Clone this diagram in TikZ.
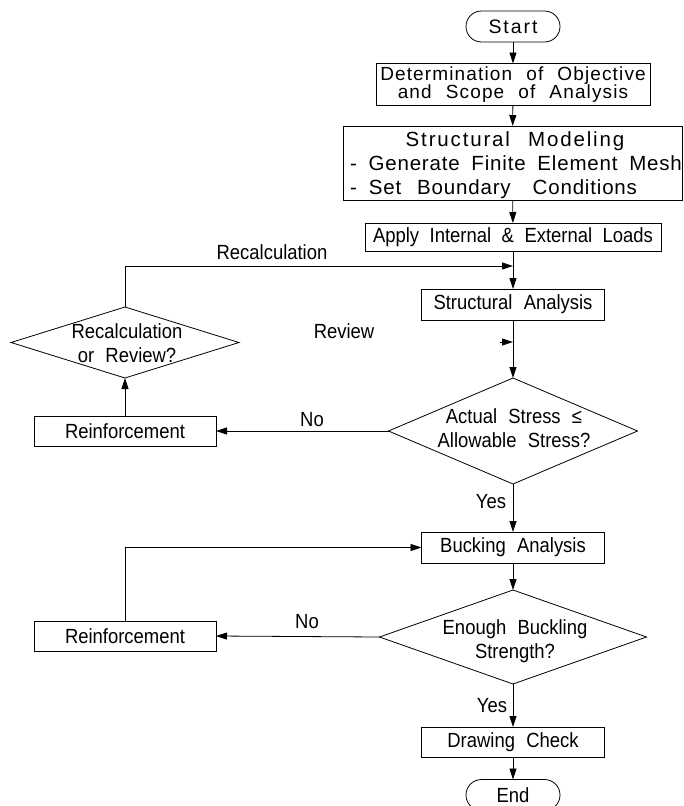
\documentclass[tikz,border=0pt]{standalone}
\usepackage{fontspec}
\setmainfont{Liberation Sans}[FakeStretch=0.9,WordSpace=2.2]
\newfontfamily\trkA{Liberation Sans}[LetterSpace=6,WordSpace=2.2]
\newfontfamily\trkB{Liberation Sans}[LetterSpace=4,WordSpace=1.8]
\newfontfamily\trkC{Liberation Sans}[LetterSpace=9,WordSpace=2.4]
\newfontfamily\trkS{Liberation Sans}[LetterSpace=10]
\newfontfamily\fD{Liberation Sans}[FakeStretch=0.9,WordSpace=2.05]
\usetikzlibrary{shapes.geometric,arrows.meta}
\begin{document}
\begin{tikzpicture}[x=1pt,y=-1pt,
  every node/.style={inner sep=0pt,outer sep=0pt},
  txt/.style={font=\fontsize{20.5}{24}\selectfont, align=center},
  box/.style={txt, draw, rectangle, line width=0.8pt},
  dia/.style={draw, diamond, line width=0.8pt},
  arr/.style={line width=0.8pt, -{Triangle[length=11pt,width=7pt]}}]
\useasboundingbox (0,0) rectangle (683,806);

% main column
\node[box, rounded corners=15.5pt, minimum width=94pt, minimum height=31pt,
      font=\trkS\fontsize{19.5}{22}\selectfont] (start) at (513,26.5) {Start};
\node[box, minimum width=274pt, minimum height=42pt,
      font=\trkA\fontsize{19}{15}\selectfont] (b2) at (513,84.5)
      {Determination of Objective\\and Scope of Analysis};
\node[box, minimum width=339pt, minimum height=74pt] (b3) at (512.5,163) {};
\node[anchor=base, font=\trkC\fontsize{20.5}{24}\selectfont] (b3a) at (515,146) {Structural Modeling};
\node[anchor=base west, font=\trkB\fontsize{20.5}{24}\selectfont] (b3b) at (350,170) {- Generate Finite Element Mesh};
\node[anchor=base west, font=\trkB\fontsize{20.5}{24}\selectfont] (b3c) at (350,194) {-\hspace{12pt}Set\hspace{16pt}Boundary\hspace{22pt}Conditions};
\node[box, minimum width=296pt, minimum height=28pt,
      font=\fD\fontsize{20.5}{24}\selectfont] (b4) at (513,237) {Apply Internal \& External Loads};
\node[box, minimum width=183pt, minimum height=31pt] (sa) at (513,304.5) {Structural Analysis};
\node[dia, minimum width=249pt, minimum height=106pt] (d2) at (513,431) {};
\node[txt] (d2t) at (514,428.5) {Actual Stress ≤\\Allowable Stress?};
\node[box, minimum width=183pt, minimum height=31pt] (ba) at (513,547.5) {Bucking Analysis};
\node[dia, minimum width=267pt, minimum height=94pt] (d3) at (513,637) {};
\node[txt] (d3t) at (515,641) {Enough Buckling\\Strength?};
\node[box, minimum width=183pt, minimum height=30pt] (dc) at (513,742) {Drawing Check};
\node[box, rounded corners=15.5pt, minimum width=94pt, minimum height=31pt] (end) at (513,795) {End};

% left column
\node[dia, minimum width=228pt, minimum height=71pt] (d1) at (125,342.5) {};
\node[txt] (d1t) at (127,343) {Recalculation\\or Review?};
\node[box, minimum width=182pt, minimum height=30pt] (r1) at (125,431) {Reinforcement};
\node[box, minimum width=182pt, minimum height=30pt] (r2) at (125,636) {Reinforcement};

% labels
\node[txt] (lrec) at (272,252) {Recalculation};
\node[txt] (lrev) at (344,331) {Review};
\node[txt] (lno1) at (312,420) {No};
\node[txt] (lyes1) at (491,502) {Yes};
\node[txt] (lno2) at (307,622) {No};
\node[txt] (lyes2) at (492,706) {Yes};

% connectors
\coordinate (j1) at (513,266);
\coordinate (s1) at (500,342);
\coordinate (s2) at (513,342);
\draw[arr] (start) -- (b2);
\draw[arr] (b2) -- (b3);
\draw[arr] (b3) -- (b4);
\draw[arr] (b4) -- (sa);
\draw[arr] (d1.north) |- (j1);
\draw[arr] (sa) -- (d2.north);
\draw[arr] (s1) -- (s2);
\draw[arr] (d2.west) -- (r1.east);
\draw[arr] (r1) -- (d1.south);
\draw[arr] (d2.south) -- (ba);
\draw[arr] (ba) -- (d3.north);
\draw[arr] (d3.west) -- (r2.east);
\draw[arr] (r2.north) |- (ba.west);
\draw[arr] (d3.south) -- (dc);
\draw[arr] (dc) -- (end);
\end{tikzpicture}
\end{document}
